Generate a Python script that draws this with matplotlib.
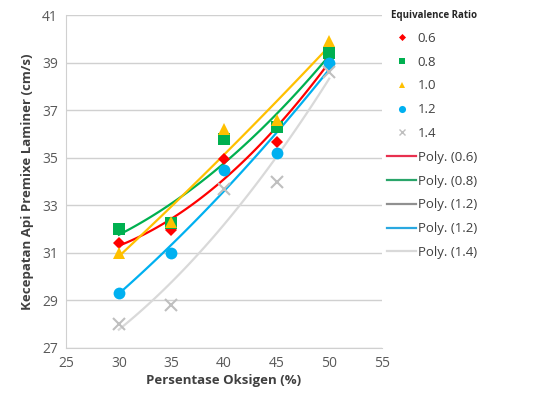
import numpy as np
from matplotlib import pyplot as plt
from matplotlib.lines import Line2D

oxygen = [30, 35, 40, 45, 50]
ratios = ["0.6", "0.8", "1.0", "1.2", "1.4"]
speed_06 = [31.4, 31.95, 34.95, 35.65, 39.2]
speed_08 = [32.0, 32.25, 35.8, 36.3, 39.4]
speed_10 = [31.0, 32.3, 36.2, 36.6, 39.9]
speed_12 = [29.3, 31.0, 34.5, 35.2, 39.0]
speed_14 = [28.0, 28.8, 33.7, 34.0, 38.6]
trend_labels = ["Poly. (0.6)", "Poly. (0.8)", "Poly. (1.2)", "Poly. (1.2)", "Poly. (1.4)"]

plt.rcParams["font.family"] = ["Open Sans", "DejaVu Sans"]


def plot_speed():
    fig = plt.figure(figsize=(5.34, 3.99), dpi=100)
    ax = fig.add_axes([0.124, 0.128, 0.591, 0.834])

    series = [speed_06, speed_08, speed_10, speed_12, speed_14]
    colors = ["#ff0000", "#00b050", "#ffc000", "#00b0f0", "#bfbfbf"]
    trend_colors = ["#ff0000", "#00b050", "#ffc000", "#00b0f0", "#d9d9d9"]
    markers = ["D", "s", "^", "o", "x"]
    sizes = [6, 8, 8, 8.5, 8]

    xs = np.linspace(30, 50, 100)
    for vals, c, tc in zip(series, colors, trend_colors):
        coef = np.polyfit(oxygen, vals, 2)
        ax.plot(xs, np.polyval(coef, xs), color=tc, lw=1.6, zorder=2)

    marker_handles = []
    for vals, c, m, s, lab in zip(series, colors, markers, sizes, ratios):
        mew = 1.5 if m == "x" else 0
        ax.plot(oxygen, vals, ls="none", marker=m, ms=s, color=c,
                mew=mew, zorder=3, label=lab)
        marker_handles.append(Line2D([], [], ls="none", marker=m, ms=s * 0.6,
                                     color=c, mew=1 if m == "x" else 0))

    ax.set_xlim(25, 55)
    ax.set_ylim(27, 41)
    ax.set_xticks(range(25, 56, 5))
    ax.set_yticks(range(27, 42, 2))
    ax.grid(axis="y", color="#d0d0d0", lw=1)
    ax.set_axisbelow(True)
    for side in ["top", "right"]:
        ax.spines[side].set_visible(False)
    for side in ["left", "bottom"]:
        ax.spines[side].set_color("#d0d0d0")
    ax.tick_params(length=0, labelsize=10, labelcolor="#595959", pad=6)
    ax.set_xlabel("Persentase Oksigen (%)", fontsize=9.5, fontweight="bold",
                  color="#404040", labelpad=2)
    ax.set_ylabel("Kecepatan Api Premixe Laminer (cm/s)", fontsize=9.5,
                  fontweight="bold", color="#404040", labelpad=6)

    line_handles = [Line2D([], [], color=c, lw=1.6)
                    for c in ["#e8304f", "#2aa56a", "#909090", "#2aa8e0", "#d9d9d9"]]
    leg = fig.legend(marker_handles + line_handles, ratios + trend_labels,
                     loc="upper left", bbox_to_anchor=(0.703, 1.005),
                     frameon=False, fontsize=9.5, labelcolor="#404040",
                     handlelength=2.2, handletextpad=0.1, labelspacing=0.82,
                     title="Equivalence Ratio",
                     title_fontproperties={"size": 7, "weight": "bold"})
    leg.get_title().set_color("#262626")
    leg.set_alignment("right")
    return fig


if __name__ == "__main__":
    fig = plot_speed()
    fig.savefig("out.png", dpi=100)
